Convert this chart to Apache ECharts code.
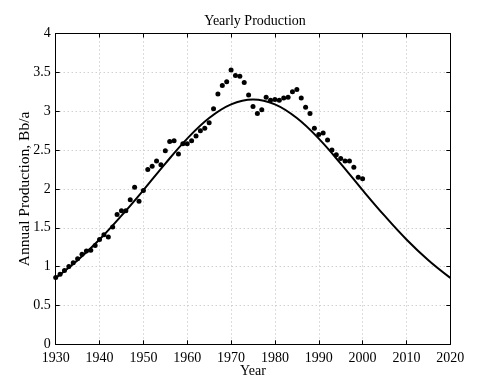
<!DOCTYPE html>
<html>
<head>
<meta charset="utf-8">
<script src="https://cdn.jsdelivr.net/npm/echarts@6/dist/echarts.min.js"></script>
<style>html,body{margin:0;padding:0;background:#fff;}#c{width:480px;height:388px;}</style>
</head>
<body>
<div id="c"></div>
<script>
// Observed yearly production (Bb/a), 1930-2000
const years = [];
for (let y = 1930; y <= 2000; y++) years.push(y);
const production = [
  0.86, 0.90, 0.95, 1.00, 1.05, 1.10, 1.16, 1.20, 1.21, 1.27,
  1.35, 1.41, 1.38, 1.51, 1.67, 1.72, 1.72, 1.86, 2.02, 1.84,
  1.98, 2.25, 2.29, 2.36, 2.31, 2.49, 2.61, 2.62, 2.45, 2.58,
  2.58, 2.62, 2.68, 2.75, 2.78, 2.85, 3.03, 3.22, 3.33, 3.38,
  3.53, 3.46, 3.45, 3.37, 3.21, 3.06, 2.97, 3.02, 3.18, 3.14,
  3.15, 3.14, 3.17, 3.18, 3.25, 3.28, 3.17, 3.05, 2.97, 2.78,
  2.70, 2.72, 2.63, 2.50, 2.44, 2.39, 2.36, 2.36, 2.28, 2.15,
  2.13
];
// Fitted curve, every 5 years
const curveYears = [1930,1935,1940,1945,1950,1955,1960,1965,1970,1975,1980,1985,1990,1995,2000,2005,2010,2015,2020];
const curveValues = [0.855,1.082,1.349,1.655,1.984,2.326,2.647,2.912,3.088,3.15,3.088,2.912,2.647,2.326,1.984,1.655,1.349,1.082,0.855];
const yTicks = ['0','0.5','1','1.5','2','2.5','3','3.5','4'];
const title = 'Yearly Production';
const xName = 'Year';
const yName = 'Annual Production, Bb/a';

const font = '"Liberation Serif", "DejaVu Serif", serif';
const chart = echarts.init(document.getElementById('c'), null, {renderer: 'canvas'});
const gridLine = {show: true, lineStyle: {color: '#bbbbbb', type: [1, 3], width: 1}};
const axisLine = {show: true, onZero: false, lineStyle: {color: '#000', width: 1}};
const tick = {show: true, inside: true, length: 4, lineStyle: {color: '#000'}};
chart.setOption({
  animation: false,
  backgroundColor: '#fff',
  title: {text: title, left: 250, top: 9, textAlign: 'center',
    textStyle: {fontFamily: font, fontSize: 14, fontWeight: 'normal', color: '#000'}},
  grid: {left: 55.7, right: 29.7, top: 33.5, bottom: 43.7, containLabel: false},
  xAxis: [{
    type: 'value', min: 1930, max: 2020, interval: 10, position: 'bottom',
    name: xName, nameLocation: 'middle', nameGap: 20, nameMoveOverlap: false,
    nameTextStyle: {fontFamily: font, fontSize: 14, color: '#000'},
    axisLine: axisLine, axisTick: tick, splitLine: gridLine,
    axisLabel: {fontFamily: font, fontSize: 14, color: '#000', margin: 7,
      formatter: function (v) { return String(v); }}
  }, {
    type: 'value', min: 1930, max: 2020, interval: 10, position: 'top',
    axisLine: axisLine, axisTick: tick, splitLine: {show: false}, axisLabel: {show: false}
  }],
  yAxis: [{
    type: 'value', min: 0, max: 4, interval: 0.5, position: 'left',
    name: yName, nameLocation: 'middle', nameGap: 23, nameRotate: 90, nameMoveOverlap: false,
    nameTextStyle: {fontFamily: font, fontSize: 15.5, color: '#000'},
    axisLine: axisLine, axisTick: tick, splitLine: gridLine,
    axisLabel: {fontFamily: font, fontSize: 14, color: '#000', margin: 5,
      formatter: function (v) { return yTicks[Math.round(v / 0.5)]; }}
  }, {
    type: 'value', min: 0, max: 4, interval: 0.5, position: 'right',
    axisLine: axisLine, axisTick: tick, splitLine: {show: false}, axisLabel: {show: false}
  }],
  series: [{
    type: 'line', xAxisIndex: 0, yAxisIndex: 0,
    data: curveYears.map((y, i) => [y, curveValues[i]]),
    smooth: 0.4, showSymbol: false, lineStyle: {color: '#000', width: 2}, z: 2
  }, {
    type: 'scatter', xAxisIndex: 0, yAxisIndex: 0,
    data: years.map((y, i) => [y, production[i]]),
    symbol: 'circle', symbolSize: 5, itemStyle: {color: '#000', opacity: 1}, z: 3
  }]
});
</script>
</body>
</html>
